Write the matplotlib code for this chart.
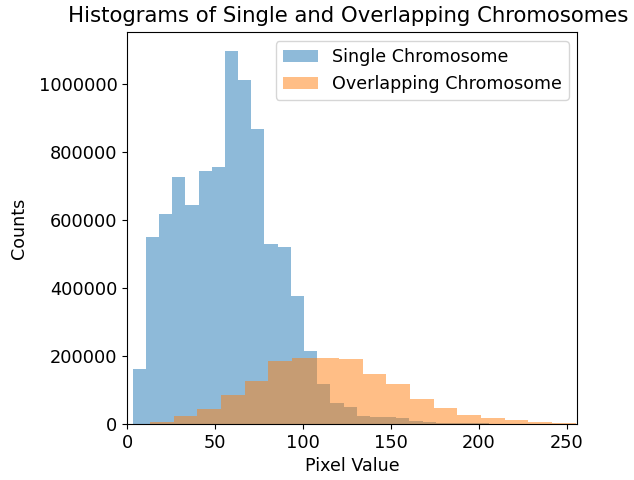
import matplotlib
matplotlib.use('Agg')
import matplotlib.pyplot as plt
import numpy as np

# counts per bin
single_counts = [161000, 549000, 617000, 728000, 646000, 744000, 756000, 1098000,
                 1012000, 869000, 531000, 521000, 376000, 216000, 117000, 61000,
                 49000, 24000, 22000, 20000, 18000, 9000, 7000, 4000, 3000,
                 2000, 1500, 1000, 500, 300]
single_range = (3, 228)

overlap_counts = [6800, 24500, 45000, 85500, 127000, 185000, 195600, 194000,
                  191000, 147500, 118000, 73000, 46000, 26500, 16800, 11800,
                  6800, 1500]
overlap_range = (13, 255)

single_edges = np.linspace(single_range[0], single_range[1], len(single_counts) + 1)
overlap_edges = np.linspace(overlap_range[0], overlap_range[1], len(overlap_counts) + 1)

fs = 12.8
plt.rcParams['font.size'] = fs

fig = plt.figure(figsize=(6.34, 4.8), dpi=100)
ax = fig.add_axes([0.2008, 0.1167, 0.7098, 0.8160])

ax.hist(single_edges[:-1], bins=single_edges, weights=single_counts,
        alpha=0.5, label='Single Chromosome')
ax.hist(overlap_edges[:-1], bins=overlap_edges, weights=overlap_counts,
        alpha=0.5, label='Overlapping Chromosome')

ax.set_xlim(0, 256)
# the title is a bit wider than the axes, nudge it so it stays on the canvas
ax.set_title('Histograms of Single and Overlapping Chromosomes', fontsize=15.3,
             pad=7.5, x=0.49)
ax.set_xlabel('Pixel Value', fontsize=12.6)
ax.set_ylabel('Counts', fontsize=12.6, labelpad=7.5)
ax.tick_params(labelsize=fs)
ax.ticklabel_format(axis='y', style='plain')
ax.legend(loc='upper right', fontsize=12.6)

plt.savefig('out.png', dpi=100)
